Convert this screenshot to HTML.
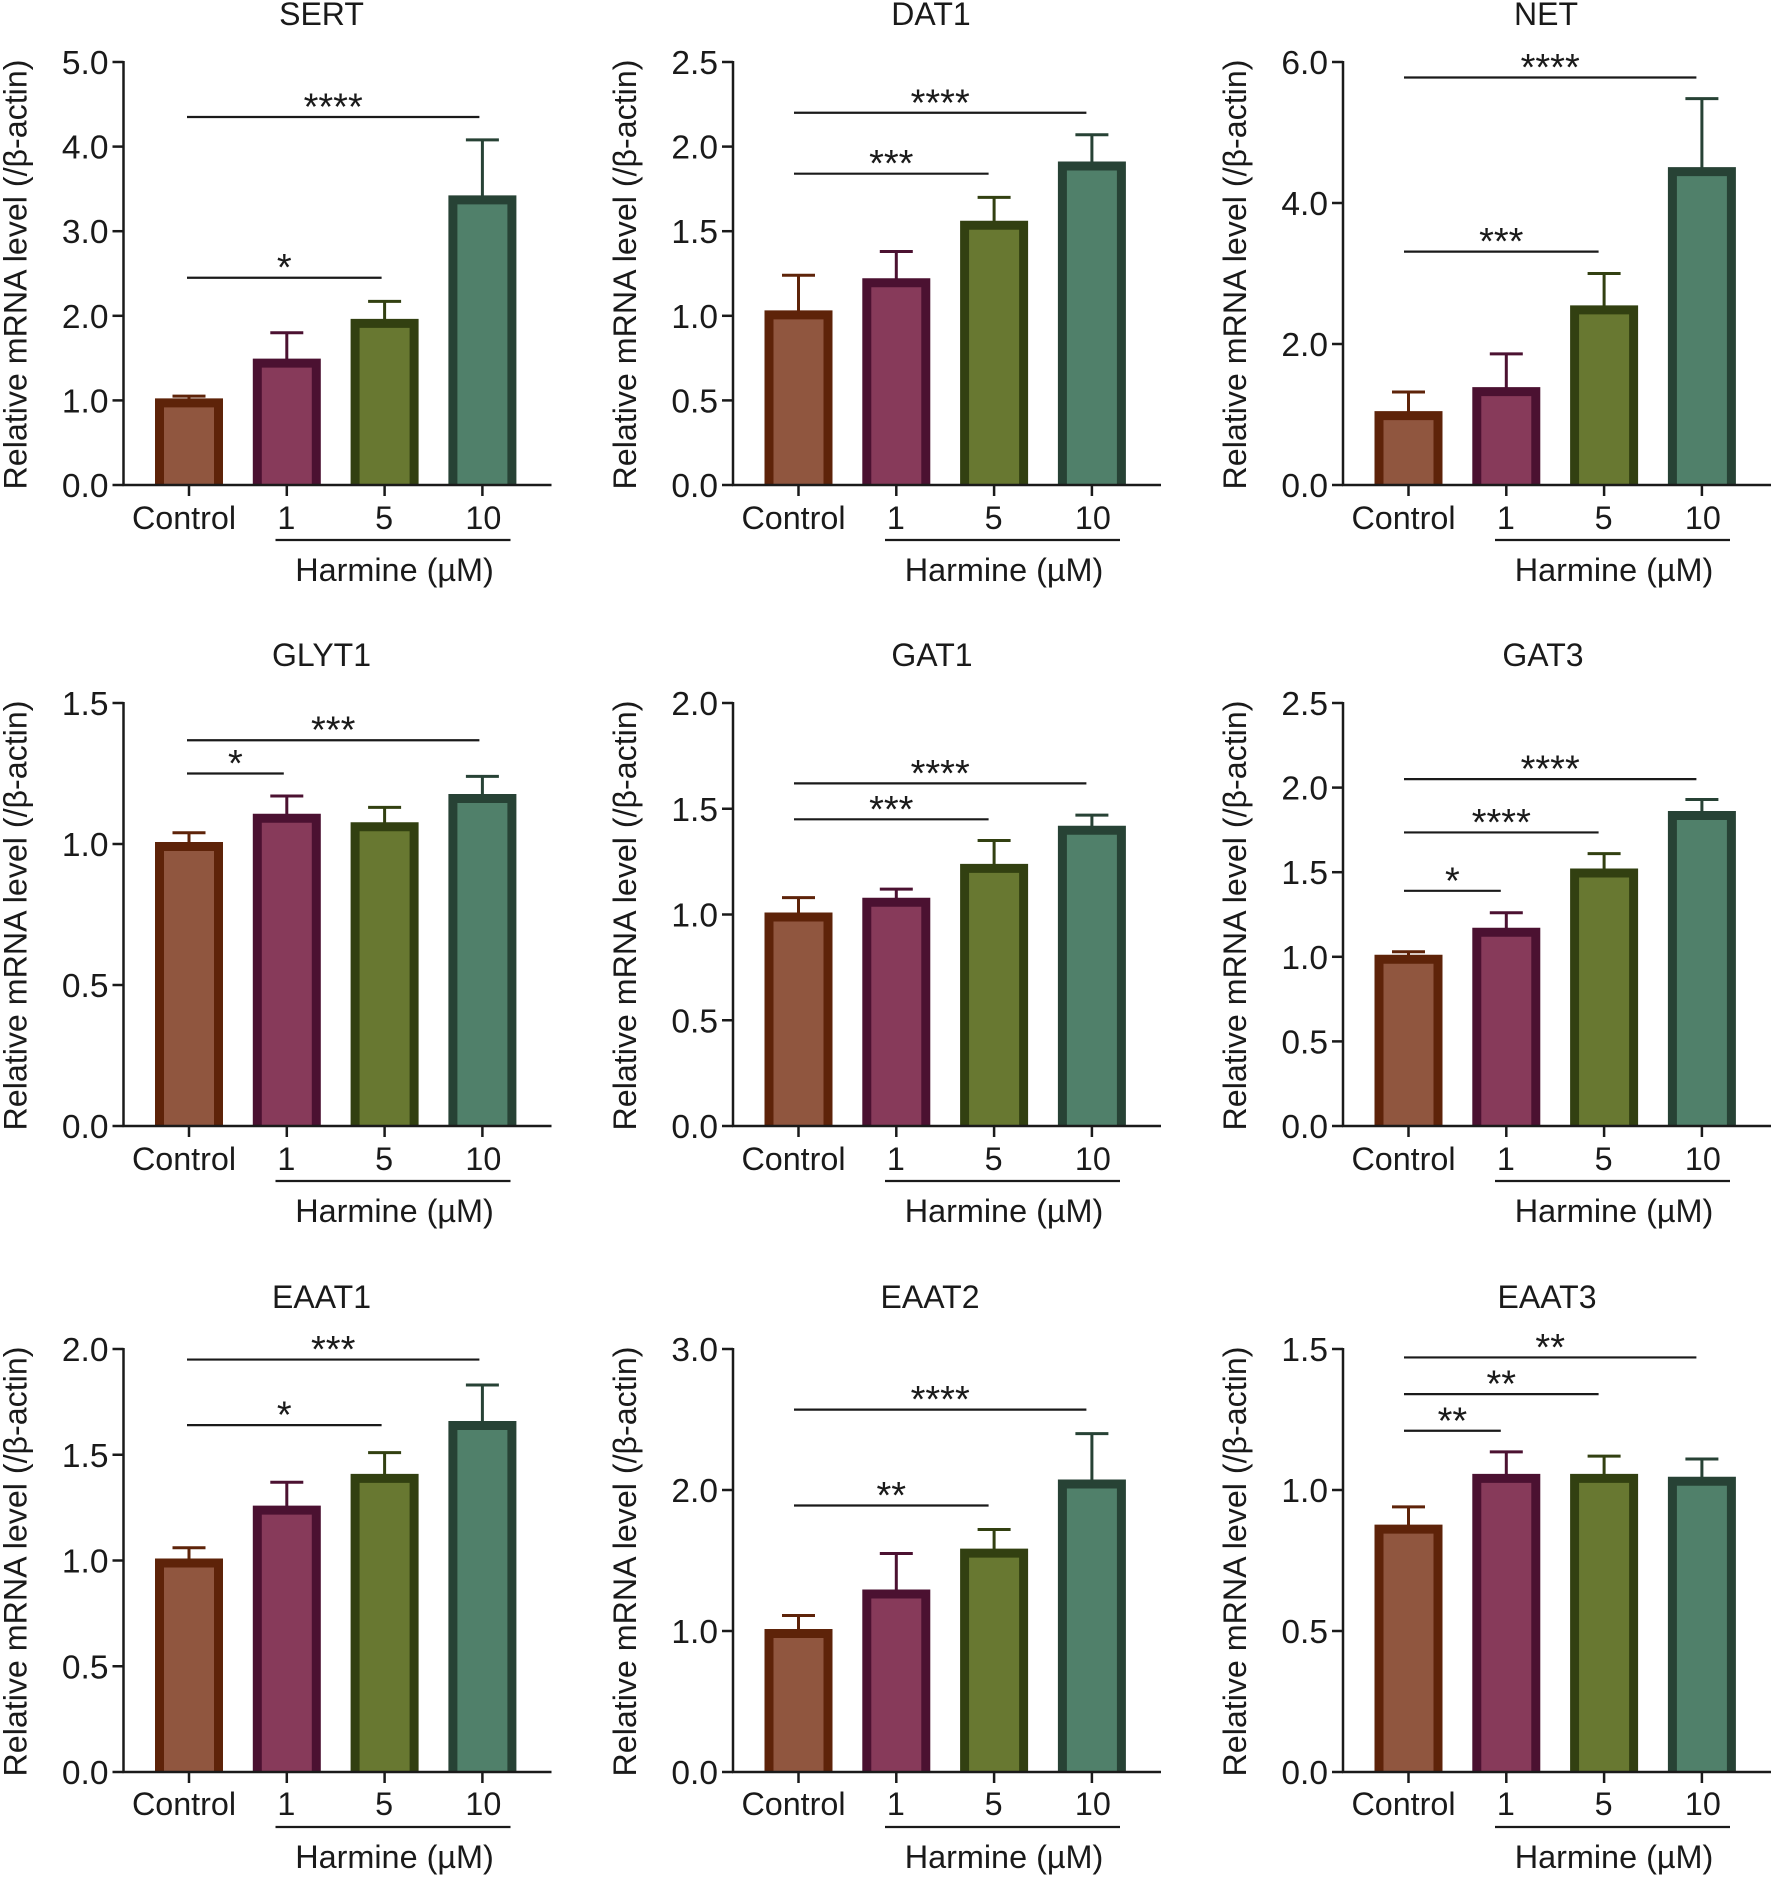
<!DOCTYPE html>
<html lang="en">
<head>
<meta charset="utf-8">
<title>Relative mRNA levels with Harmine</title>
<style>
html,body{margin:0;padding:0;background:#fff}
svg{display:block}
text{font-family:"Liberation Sans",Arial,sans-serif;fill:#1a1a1a}
</style>
</head>
<body>
<svg id="figure" xmlns="http://www.w3.org/2000/svg" width="1772" height="1878" viewBox="0 0 1772 1878"></svg>
<script>
const categories = ['Control', '1', '5', '10'];
const groupLabel = 'Harmine (µM)';
const yAxisLabel = 'Relative mRNA level (/β-actin)';

const sertMeans = [1.0, 1.47, 1.94, 3.4];
const sertErrTops = [1.05, 1.8, 2.17, 4.08];
const sertTicks = ['0.0', '1.0', '2.0', '3.0', '4.0', '5.0'];
const sertSig = [[3, 4.35, '****'], [2, 2.45, '*']];

const dat1Means = [1.02, 1.21, 1.55, 1.9];
const dat1ErrTops = [1.24, 1.38, 1.7, 2.07];
const dat1Ticks = ['0.0', '0.5', '1.0', '1.5', '2.0', '2.5'];
const dat1Sig = [[3, 2.2, '****'], [2, 1.84, '***']];

const netMeans = [1.02, 1.36, 2.52, 4.48];
const netErrTops = [1.32, 1.86, 3.0, 5.48];
const netTicks = ['0.0', '2.0', '4.0', '6.0'];
const netSig = [[3, 5.78, '****'], [2, 3.31, '***']];

const glyt1Means = [1.0, 1.1, 1.07, 1.17];
const glyt1ErrTops = [1.04, 1.17, 1.13, 1.24];
const glyt1Ticks = ['0.0', '0.5', '1.0', '1.5'];
const glyt1Sig = [[3, 1.368, '***'], [1, 1.25, '*']];

const gat1Means = [1.0, 1.07, 1.23, 1.41];
const gat1ErrTops = [1.08, 1.12, 1.35, 1.47];
const gat1Ticks = ['0.0', '0.5', '1.0', '1.5', '2.0'];
const gat1Sig = [[3, 1.62, '****'], [2, 1.45, '***']];

const gat3Means = [1.0, 1.16, 1.51, 1.85];
const gat3ErrTops = [1.03, 1.26, 1.61, 1.93];
const gat3Ticks = ['0.0', '0.5', '1.0', '1.5', '2.0', '2.5'];
const gat3Sig = [[3, 2.05, '****'], [2, 1.735, '****'], [1, 1.39, '*']];

const eaat1Means = [1.0, 1.25, 1.4, 1.65];
const eaat1ErrTops = [1.06, 1.37, 1.51, 1.83];
const eaat1Ticks = ['0.0', '0.5', '1.0', '1.5', '2.0'];
const eaat1Sig = [[3, 1.95, '***'], [2, 1.64, '*']];

const eaat2Means = [1.0, 1.28, 1.57, 2.06];
const eaat2ErrTops = [1.11, 1.55, 1.72, 2.4];
const eaat2Ticks = ['0.0', '1.0', '2.0', '3.0'];
const eaat2Sig = [[3, 2.57, '****'], [2, 1.89, '**']];

const eaat3Means = [0.87, 1.05, 1.05, 1.04];
const eaat3ErrTops = [0.94, 1.135, 1.12, 1.11];
const eaat3Ticks = ['0.0', '0.5', '1.0', '1.5'];
const eaat3Sig = [[3, 1.47, '**'], [2, 1.34, '**'], [1, 1.21, '**']];

const panelNames = ['SERT', 'DAT1', 'NET', 'GLYT1', 'GAT1', 'GAT3', 'EAAT1', 'EAAT2', 'EAAT3'];
const panelMeans = [sertMeans, dat1Means, netMeans, glyt1Means, gat1Means, gat3Means, eaat1Means, eaat2Means, eaat3Means];
const panelErrTops = [sertErrTops, dat1ErrTops, netErrTops, glyt1ErrTops, gat1ErrTops, gat3ErrTops, eaat1ErrTops, eaat2ErrTops, eaat3ErrTops];
const panelTicks = [sertTicks, dat1Ticks, netTicks, glyt1Ticks, gat1Ticks, gat3Ticks, eaat1Ticks, eaat2Ticks, eaat3Ticks];
const panelSig = [sertSig, dat1Sig, netSig, glyt1Sig, gat1Sig, gat3Sig, eaat1Sig, eaat2Sig, eaat3Sig];

const svg = document.getElementById('figure');
const NS = 'http://www.w3.org/2000/svg';
const fills = ['#90563f', '#873a5a', '#687831', '#50806a'];
const strokes = ['#5e2309', '#4b1131', '#324011', '#274235'];
const colX = [123.5, 733, 1343];
const rowTop = [62, 703, 1349];
const titleRise = [37, 37, 41];
const titleShift = [0, 0, 5, 0, 1, 2, 0, -1, 6];
const sigColShift = [1.5, -1, -1];
const plotH = 423;
const ink = '#1a1a1a';

function make(parent, tag, attrs, text) {
  const node = document.createElementNS(NS, tag);
  for (const k in attrs) node.setAttribute(k, attrs[k]);
  if (text !== undefined) node.textContent = text;
  parent.appendChild(node);
  return node;
}

panelNames.forEach(function (name, p) {
  const ax = colX[p % 3];
  const row = Math.floor(p / 3);
  const top = rowTop[row];
  const base = top + plotH;
  const ticks = panelTicks[p];
  const yMax = parseFloat(ticks[ticks.length - 1]);
  const yScale = function (v) { return base - (v / yMax) * plotH; };
  const xScale = function (i) { return ax + 65.5 + i * 97.8; };
  const slug = name.toLowerCase();

  const g = make(svg, 'g', {});
  
  

  const title = make(g, 'text', {x: ax + 198 + titleShift[p], y: top - titleRise[row], 'text-anchor': 'middle', 'font-size': 32}, name);
  
  

  panelMeans[p].forEach(function (m, i) {
    const cx = xScale(i);
    const errTop = panelErrTops[p][i];
    const barY = yScale(m) + 2.5;
    const stem = make(g, 'line', {x1: cx, x2: cx, y1: barY, y2: yScale(errTop), stroke: strokes[i], 'stroke-width': 3});
    
    
    const cap = make(g, 'line', {x1: cx - 16.5, x2: cx + 16.5, y1: yScale(errTop), y2: yScale(errTop), stroke: strokes[i], 'stroke-width': 3});
    
    
    const bar = make(g, 'rect', {x: cx - 29.5, y: barY, width: 59, height: base - barY, fill: fills[i]});
    
    
    const outline = make(g, 'path', {d: 'M' + (cx - 29.5) + ' ' + base + 'V' + barY + 'H' + (cx + 29.5) + 'V' + base, fill: 'none', stroke: strokes[i], 'stroke-width': 9, 'stroke-linejoin': 'miter'});
    
    
    const tick = make(g, 'line', {x1: cx, x2: cx, y1: base, y2: base + 11, stroke: ink, 'stroke-width': 2.5});
    
    
    const tx = i === 0 ? cx - 5 : (i === 3 ? cx + 1 : cx - 0.5);
    const lab = make(g, 'text', {x: tx, y: base + 44 - (row === 2 ? 1 : 0), 'text-anchor': 'middle', 'font-size': 32.3}, categories[i]);
    
    
  });

  const xAxis = make(g, 'line', {x1: ax - 1, x2: ax + 428, y1: base, y2: base, stroke: ink, 'stroke-width': 2.5});
  
  
  const yAxis = make(g, 'line', {x1: ax, x2: ax, y1: top - 1, y2: base + 1, stroke: ink, 'stroke-width': 2.5});
  
  

  ticks.forEach(function (t, i) {
    const y = yScale(parseFloat(t));
    const tk = make(g, 'line', {x1: ax - 11, x2: ax, y1: y, y2: y, stroke: ink, 'stroke-width': 2.5});
    
    
    const lb = make(g, 'text', {x: ax - 15, y: y + 12, 'text-anchor': 'end', 'font-size': 33.5}, t);
    
    
  });

  const cy = (top + base) / 2 + 1;
  const yTitle = make(g, 'text', {x: 0, y: 0, 'text-anchor': 'middle', 'font-size': 32.2, transform: 'translate(' + (ax - 97) + ' ' + cy + ') rotate(-90)'}, yAxisLabel);
  
  

  panelSig[p].forEach(function (s, i) {
    const y = yScale(s[1]);
    const x1 = xScale(0) - 3.5 + sigColShift[p % 3];
    const x2 = xScale(s[0]) - 4.5 + sigColShift[p % 3];
    const ln = make(g, 'line', {x1: x1, x2: x2, y1: y, y2: y, stroke: ink, 'stroke-width': 2.2});
    
    
    const st = make(g, 'text', {x: (x1 + x2) / 2, y: y + 2.5, 'text-anchor': 'middle', 'font-size': 38}, s[2]);
    
    
  });

  const gl = make(g, 'line', {x1: ax + 152, x2: ax + 387, y1: base + 55, y2: base + 55, stroke: ink, 'stroke-width': 2.2});
  
  
  const gt = make(g, 'text', {x: ax + 271, y: base + 96, 'text-anchor': 'middle', 'font-size': 32.4}, groupLabel);
  
  
});
</script>
</body>
</html>
